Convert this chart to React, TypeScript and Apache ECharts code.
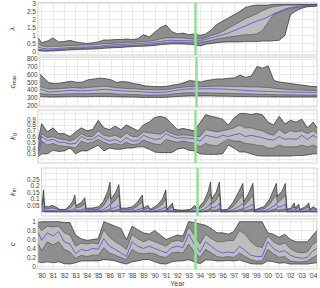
import React, { useEffect, useRef } from 'react';
import * as echarts from 'echarts';

// ---- time axes ----
const halfYears = [1979.7, 1980, 1980.5, 1981, 1981.5, 1982, 1982.5, 1983, 1983.5, 1984, 1984.5, 1985, 1985.5, 1986, 1986.5, 1987, 1987.5, 1988, 1988.5, 1989, 1989.5, 1990, 1990.5, 1991, 1991.5, 1992, 1992.5, 1993, 1993.5, 1994, 1994.5, 1995, 1995.5, 1996, 1996.5, 1997, 1997.5, 1998, 1998.5, 1999, 1999.5, 2000, 2000.5, 2001, 2001.5, 2002, 2002.5, 2003, 2003.5, 2004, 2004.35];
const yearTicks = [1980, 1981, 1982, 1983, 1984, 1985, 1986, 1987, 1988, 1989, 1990, 1991, 1992, 1993, 1994, 1995, 1996, 1997, 1998, 1999, 2000, 2001, 2002, 2003, 2004];
const markerYear = 1993.62;

// ---- panel 1 ----
const lam95 = [0.85, 0.55, 0.65, 0.85, 0.6, 0.62, 0.7, 0.6, 0.55, 0.5, 0.55, 0.6, 0.72, 0.72, 0.75, 0.75, 0.78, 0.75, 0.8, 1.05, 0.9, 1.2, 1.5, 1.65, 1.25, 1.1, 1.15, 1.05, 1.1, 1.0, 1.1, 1.35, 1.7, 1.9, 2.1, 2.3, 2.5, 2.75, 2.85, 2.9, 2.9, 2.9, 2.95, 2.95, 2.95, 2.95, 2.95, 2.95, 2.95, 2.95, 2.95];
const lam75 = [0.5, 0.35, 0.3, 0.32, 0.33, 0.35, 0.38, 0.38, 0.4, 0.42, 0.42, 0.45, 0.5, 0.5, 0.52, 0.55, 0.58, 0.58, 0.6, 0.62, 0.65, 0.7, 0.78, 0.85, 0.85, 0.85, 0.85, 0.8, 0.78, 0.78, 0.85, 1.0, 1.1, 1.25, 1.45, 1.65, 1.85, 2.05, 2.2, 2.35, 2.55, 2.7, 2.8, 2.85, 2.9, 2.9, 2.9, 2.9, 2.9, 2.92, 2.93];
const lam50 = [0.3, 0.2, 0.15, 0.17, 0.2, 0.22, 0.25, 0.26, 0.27, 0.28, 0.3, 0.32, 0.38, 0.4, 0.42, 0.44, 0.46, 0.47, 0.5, 0.52, 0.55, 0.58, 0.62, 0.68, 0.7, 0.68, 0.68, 0.67, 0.66, 0.68, 0.75, 0.85, 0.95, 1.05, 1.15, 1.3, 1.45, 1.6, 1.75, 1.9, 2.0, 2.15, 2.35, 2.5, 2.65, 2.75, 2.8, 2.85, 2.88, 2.9, 2.92];
const lam25 = [0.15, 0.1, 0.08, 0.1, 0.12, 0.15, 0.18, 0.2, 0.2, 0.22, 0.23, 0.25, 0.3, 0.32, 0.34, 0.35, 0.37, 0.38, 0.4, 0.42, 0.45, 0.48, 0.52, 0.56, 0.58, 0.58, 0.57, 0.56, 0.55, 0.58, 0.62, 0.7, 0.78, 0.85, 0.9, 0.95, 1.0, 1.05, 1.05, 1.1, 1.3, 1.8, 2.3, 2.45, 2.6, 2.7, 2.75, 2.8, 2.83, 2.85, 2.87];
const lam5 = [0.05, 0.03, 0.02, 0.04, 0.06, 0.08, 0.1, 0.12, 0.13, 0.14, 0.15, 0.17, 0.2, 0.22, 0.24, 0.25, 0.28, 0.3, 0.32, 0.33, 0.35, 0.38, 0.42, 0.45, 0.47, 0.47, 0.46, 0.45, 0.42, 0.35, 0.45, 0.5, 0.55, 0.58, 0.6, 0.6, 0.6, 0.62, 0.62, 0.62, 0.65, 0.65, 0.67, 0.7, 1.0, 2.3, 2.55, 2.7, 2.8, 2.82, 2.84];

// ---- panel 2 ----
const cmax95 = [600, 560, 490, 480, 485, 500, 510, 495, 500, 530, 540, 550, 545, 530, 495, 505, 500, 480, 470, 450, 445, 440, 440, 445, 460, 470, 490, 520, 510, 500, 520, 530, 540, 540, 550, 555, 590, 560, 580, 700, 680, 710, 520, 500, 490, 480, 470, 460, 450, 440, 440];
const cmax75 = [440, 425, 410, 410, 415, 420, 428, 425, 420, 428, 435, 440, 445, 435, 425, 420, 415, 412, 408, 402, 398, 398, 398, 402, 415, 425, 435, 440, 440, 440, 442, 445, 445, 445, 442, 440, 440, 438, 435, 435, 432, 430, 420, 410, 405, 400, 398, 395, 392, 390, 390];
const cmax50 = [405, 395, 370, 375, 380, 385, 392, 388, 385, 390, 395, 400, 405, 398, 390, 385, 380, 378, 375, 370, 365, 365, 365, 370, 385, 395, 405, 410, 410, 410, 412, 412, 410, 408, 405, 400, 395, 390, 385, 382, 380, 378, 375, 372, 370, 370, 368, 368, 366, 366, 366];
const cmax25 = [350, 345, 340, 340, 342, 345, 348, 348, 346, 348, 350, 352, 354, 350, 345, 342, 340, 338, 335, 332, 330, 330, 332, 335, 345, 352, 358, 360, 360, 360, 360, 358, 356, 354, 352, 350, 348, 346, 344, 342, 340, 338, 336, 335, 334, 333, 332, 332, 331, 331, 331];
const cmax5 = [310, 310, 305, 305, 306, 308, 310, 310, 308, 310, 312, 312, 312, 310, 308, 306, 305, 304, 302, 300, 300, 300, 300, 302, 308, 312, 315, 318, 318, 318, 318, 318, 316, 315, 314, 312, 312, 310, 310, 308, 308, 307, 306, 306, 305, 305, 305, 305, 305, 305, 305];

// ---- panel 3 ----
const kg95 = [0.55, 0.82, 0.68, 0.75, 0.65, 0.65, 0.6, 0.68, 0.75, 0.7, 0.72, 0.88, 0.75, 0.72, 0.78, 0.72, 0.8, 0.75, 0.7, 0.8, 0.85, 0.93, 0.95, 0.92, 0.82, 0.72, 0.74, 0.72, 0.7, 0.84, 0.98, 0.95, 0.93, 0.9, 0.8, 0.92, 1.0, 1.0, 0.98, 1.0, 0.98, 0.85, 0.8, 0.95, 0.82, 0.88, 0.85, 0.9, 0.75, 0.85, 0.75];
const kg75 = [0.4, 0.65, 0.58, 0.6, 0.56, 0.55, 0.52, 0.56, 0.65, 0.6, 0.6, 0.7, 0.62, 0.6, 0.62, 0.58, 0.66, 0.6, 0.6, 0.68, 0.66, 0.65, 0.64, 0.7, 0.65, 0.62, 0.63, 0.62, 0.6, 0.6, 0.72, 0.7, 0.68, 0.7, 0.72, 0.75, 0.8, 0.75, 0.75, 0.72, 0.7, 0.65, 0.62, 0.72, 0.65, 0.7, 0.68, 0.7, 0.65, 0.7, 0.65];
const kg50 = [0.35, 0.6, 0.53, 0.55, 0.5, 0.5, 0.47, 0.48, 0.6, 0.55, 0.55, 0.62, 0.56, 0.52, 0.55, 0.5, 0.58, 0.52, 0.53, 0.62, 0.58, 0.55, 0.56, 0.65, 0.6, 0.57, 0.58, 0.57, 0.56, 0.52, 0.62, 0.6, 0.58, 0.62, 0.6, 0.63, 0.65, 0.6, 0.62, 0.6, 0.58, 0.55, 0.54, 0.6, 0.55, 0.56, 0.55, 0.62, 0.55, 0.62, 0.58];
const kg25 = [0.3, 0.52, 0.45, 0.48, 0.44, 0.43, 0.42, 0.4, 0.52, 0.48, 0.5, 0.55, 0.5, 0.46, 0.48, 0.45, 0.5, 0.46, 0.47, 0.54, 0.5, 0.47, 0.46, 0.55, 0.52, 0.5, 0.52, 0.5, 0.48, 0.42, 0.48, 0.45, 0.44, 0.5, 0.55, 0.52, 0.52, 0.48, 0.47, 0.45, 0.44, 0.4, 0.4, 0.45, 0.42, 0.42, 0.42, 0.45, 0.42, 0.45, 0.42];
const kg5 = [0.25, 0.3, 0.3, 0.36, 0.34, 0.35, 0.4, 0.3, 0.35, 0.35, 0.4, 0.45, 0.35, 0.4, 0.38, 0.38, 0.4, 0.4, 0.42, 0.42, 0.38, 0.33, 0.32, 0.32, 0.32, 0.38, 0.4, 0.36, 0.35, 0.3, 0.29, 0.29, 0.29, 0.3, 0.45, 0.4, 0.33, 0.33, 0.3, 0.27, 0.26, 0.26, 0.26, 0.26, 0.26, 0.26, 0.27, 0.27, 0.28, 0.3, 0.3];

// ---- panel 4 (irregular sampling) ----
const t4 = [1979.7, 1979.85, 1979.95, 1980.3, 1980.6, 1980.9, 1981.3, 1981.8, 1982.2, 1982.5, 1982.65, 1982.75, 1983.2, 1983.55, 1983.65, 1984.2, 1984.8, 1985.2, 1985.6, 1985.8, 1985.9, 1986.3, 1986.6, 1986.75, 1987.3, 1987.8, 1988.2, 1988.7, 1988.8, 1989.2, 1989.4, 1990.0, 1990.5, 1990.8, 1990.9, 1991.4, 1991.5, 1992.0, 1992.5, 1993.0, 1993.4, 1993.6, 1994.2, 1994.6, 1994.8, 1994.9, 1995.3, 1995.6, 1995.75, 1996.3, 1996.8, 1997.3, 1997.7, 1997.8, 1998.2, 1998.6, 1998.75, 1999.2, 1999.6, 2000.1, 2000.5, 2000.7, 2000.8, 2001.2, 2001.5, 2001.65, 2002.0, 2002.3, 2002.4, 2002.7, 2002.8, 2003.3, 2003.6, 2003.7, 2004.0, 2004.35];
const km95 = [0.05, 0.17, 0.04, 0.04, 0.05, 0.04, 0.02, 0.02, 0.05, 0.09, 0.13, 0.05, 0.07, 0.11, 0.03, 0.03, 0.04, 0.08, 0.16, 0.23, 0.1, 0.15, 0.21, 0.03, 0.03, 0.04, 0.07, 0.13, 0.03, 0.05, 0.02, 0.05, 0.1, 0.17, 0.02, 0.07, 0.02, 0.015, 0.015, 0.02, 0.05, 0.02, 0.08, 0.16, 0.23, 0.1, 0.15, 0.23, 0.015, 0.02, 0.07, 0.15, 0.22, 0.08, 0.14, 0.22, 0.015, 0.03, 0.04, 0.1, 0.18, 0.22, 0.12, 0.16, 0.22, 0.02, 0.03, 0.07, 0.03, 0.06, 0.02, 0.04, 0.07, 0.02, 0.04, 0.02];
const km75 = [0.03, 0.1, 0.025, 0.025, 0.03, 0.025, 0.012, 0.012, 0.03, 0.055, 0.08, 0.03, 0.04, 0.065, 0.015, 0.015, 0.02, 0.045, 0.1, 0.14, 0.06, 0.09, 0.13, 0.015, 0.015, 0.02, 0.04, 0.08, 0.015, 0.03, 0.012, 0.03, 0.06, 0.1, 0.012, 0.04, 0.012, 0.01, 0.01, 0.012, 0.03, 0.012, 0.05, 0.1, 0.14, 0.06, 0.09, 0.14, 0.01, 0.012, 0.04, 0.09, 0.13, 0.05, 0.085, 0.13, 0.01, 0.018, 0.024, 0.06, 0.11, 0.13, 0.07, 0.1, 0.13, 0.012, 0.018, 0.04, 0.018, 0.035, 0.012, 0.024, 0.04, 0.012, 0.024, 0.012];
const km50 = [0.015, 0.04, 0.012, 0.01, 0.012, 0.01, 0.006, 0.006, 0.012, 0.02, 0.03, 0.012, 0.015, 0.025, 0.008, 0.008, 0.01, 0.018, 0.04, 0.06, 0.025, 0.035, 0.055, 0.006, 0.006, 0.008, 0.015, 0.03, 0.006, 0.01, 0.005, 0.012, 0.025, 0.04, 0.005, 0.015, 0.005, 0.004, 0.004, 0.005, 0.012, 0.005, 0.02, 0.045, 0.07, 0.03, 0.04, 0.065, 0.004, 0.005, 0.018, 0.04, 0.065, 0.025, 0.04, 0.06, 0.004, 0.008, 0.01, 0.025, 0.05, 0.065, 0.035, 0.045, 0.06, 0.005, 0.008, 0.018, 0.008, 0.015, 0.005, 0.01, 0.018, 0.005, 0.01, 0.005];
const km25 = [0.006, 0.015, 0.005, 0.004, 0.005, 0.004, 0.003, 0.003, 0.005, 0.008, 0.012, 0.005, 0.006, 0.01, 0.003, 0.003, 0.004, 0.007, 0.015, 0.025, 0.01, 0.014, 0.022, 0.003, 0.003, 0.003, 0.006, 0.012, 0.003, 0.004, 0.002, 0.005, 0.01, 0.015, 0.002, 0.006, 0.002, 0.002, 0.002, 0.002, 0.005, 0.002, 0.008, 0.018, 0.03, 0.012, 0.016, 0.026, 0.002, 0.002, 0.007, 0.016, 0.026, 0.01, 0.016, 0.024, 0.002, 0.003, 0.004, 0.01, 0.02, 0.026, 0.014, 0.018, 0.024, 0.002, 0.003, 0.007, 0.003, 0.006, 0.002, 0.004, 0.007, 0.002, 0.004, 0.002];
const km5 = [0.002, 0.004, 0.001, 0.001, 0.001, 0.001, 0.001, 0.001, 0.001, 0.002, 0.003, 0.001, 0.001, 0.002, 0.001, 0.001, 0.001, 0.001, 0.003, 0.005, 0.002, 0.003, 0.005, 0.001, 0.001, 0.001, 0.001, 0.002, 0.001, 0.001, 0.001, 0.001, 0.002, 0.003, 0.001, 0.001, 0.001, 0.001, 0.001, 0.001, 0.001, 0.001, 0.002, 0.004, 0.006, 0.003, 0.004, 0.006, 0.001, 0.001, 0.002, 0.004, 0.006, 0.002, 0.004, 0.005, 0.001, 0.001, 0.001, 0.002, 0.004, 0.006, 0.003, 0.004, 0.005, 0.001, 0.001, 0.002, 0.001, 0.001, 0.001, 0.001, 0.002, 0.001, 0.001, 0.001];

// ---- panel 5 ----
const c95 = [0.98, 1.0, 1.0, 1.0, 1.0, 0.98, 0.98, 0.7, 0.62, 0.58, 0.6, 0.62, 1.0, 0.95, 0.9, 0.85, 0.6, 0.9, 0.82, 0.75, 0.72, 0.8, 0.7, 0.6, 0.65, 0.7, 0.68, 1.0, 0.98, 0.95, 0.92, 0.85, 0.75, 0.75, 0.72, 0.78, 1.0, 1.0, 1.0, 1.0, 1.0, 0.75, 0.72, 0.65, 0.72, 0.6, 0.55, 0.55, 0.55, 0.7, 0.8];
const c75 = [0.9, 0.8, 0.9, 0.88, 0.9, 0.75, 0.7, 0.45, 0.52, 0.5, 0.52, 0.5, 0.82, 0.65, 0.55, 0.48, 0.38, 0.72, 0.62, 0.55, 0.6, 0.55, 0.5, 0.45, 0.55, 0.58, 0.55, 0.88, 0.7, 0.5, 0.72, 0.62, 0.55, 0.55, 0.58, 0.58, 0.8, 0.72, 0.55, 0.45, 0.42, 0.68, 0.55, 0.48, 0.52, 0.4, 0.32, 0.3, 0.32, 0.5, 0.55];
const c50 = [0.75, 0.58, 0.75, 0.68, 0.78, 0.55, 0.5, 0.28, 0.38, 0.35, 0.4, 0.38, 0.62, 0.45, 0.38, 0.3, 0.22, 0.55, 0.45, 0.4, 0.45, 0.4, 0.35, 0.3, 0.42, 0.45, 0.42, 0.72, 0.5, 0.32, 0.55, 0.45, 0.35, 0.3, 0.32, 0.3, 0.45, 0.35, 0.25, 0.22, 0.22, 0.55, 0.4, 0.32, 0.35, 0.25, 0.2, 0.18, 0.2, 0.35, 0.4];
const c25 = [0.5, 0.35, 0.55, 0.48, 0.55, 0.38, 0.32, 0.18, 0.25, 0.22, 0.25, 0.25, 0.42, 0.3, 0.25, 0.2, 0.15, 0.38, 0.3, 0.28, 0.3, 0.28, 0.22, 0.2, 0.3, 0.32, 0.3, 0.5, 0.32, 0.2, 0.38, 0.3, 0.22, 0.2, 0.22, 0.2, 0.3, 0.22, 0.15, 0.12, 0.12, 0.38, 0.28, 0.2, 0.22, 0.12, 0.1, 0.1, 0.12, 0.2, 0.25];
const c5 = [0.1, 0.08, 0.1, 0.08, 0.1, 0.06, 0.05, 0.08, 0.12, 0.12, 0.12, 0.12, 0.15, 0.14, 0.12, 0.08, 0.05, 0.1, 0.12, 0.15, 0.15, 0.1, 0.06, 0.05, 0.1, 0.12, 0.12, 0.15, 0.1, 0.06, 0.14, 0.14, 0.12, 0.12, 0.13, 0.12, 0.14, 0.1, 0.06, 0.05, 0.05, 0.12, 0.1, 0.07, 0.08, 0.05, 0.05, 0.05, 0.05, 0.07, 0.08];

// ---- tick labels ----
const ticks1 = [0, 0.5, 1, 1.5, 2, 2.5, 3];
const ticks2 = [200, 300, 400, 500, 600, 700, 800];
const ticks3 = [0.2, 0.3, 0.4, 0.5, 0.6, 0.7, 0.8, 0.9, 1];
const ticks4 = [0, 0.05, 0.1, 0.15, 0.2, 0.25, 0.3];
const ticks5 = [0, 0.2, 0.4, 0.6, 0.8, 1];

const DARK = '#8e8e8e';
const LIGHT = '#bdbdbd';
const EDGE = '#151515';
const INNER = '#3c3c3c';
const BLUE = '#4b4bf0';
const GREEN = '#92e292';
const GRIDC = '#e3e3e3';
const FONT = 'Liberation Sans, Arial, sans-serif';

const XMIN = 1979.67;
const XMAX = 2004.34;

const panels = [
  { t: halfYears, p5: lam5, p25: lam25, p50: lam50, p75: lam75, p95: lam95, top: 1, height: 54, min: -0.22, max: 3.05, ticks: ticks1, name: '{v|λ}' },
  { t: halfYears, p5: cmax5, p25: cmax25, p50: cmax50, p75: cmax75, p95: cmax95, top: 57, height: 50, min: 175, max: 825, ticks: ticks2, name: '{v|c}{s|max}' },
  { t: halfYears, p5: kg5, p25: kg25, p50: kg50, p75: kg75, p95: kg95, top: 110, height: 53, min: 0.14, max: 1.06, ticks: ticks3, name: '{v|k}{s|g}' },
  { t: t4, p5: km5, p25: km25, p50: km50, p75: km75, p95: km95, top: 168, height: 48, min: -0.031, max: 0.338, ticks: ticks4, name: '{v|k}{s|m}' },
  { t: halfYears, p5: c5, p25: c25, p50: c50, p75: c75, p95: c95, top: 219, height: 56, min: -0.06, max: 1.06, ticks: ticks5, name: '{v|c}' },
];

function bandSeries(i: number, t: number[], lo: number[], hi: number[], fill: string) {
  return {
    type: 'custom', xAxisIndex: i, yAxisIndex: i, silent: true, z: 1,
    data: t.map((x, k) => [x, lo[k], hi[k]]),
    encode: { x: 0, y: [1, 2] },
    renderItem: (params: any, api: any) => {
      if (params.dataIndex !== 0) return null;
      const pts: number[][] = [];
      for (let k = 0; k < t.length; k++) pts.push(api.coord([t[k], hi[k]]));
      for (let k = t.length - 1; k >= 0; k--) pts.push(api.coord([t[k], lo[k]]));
      return { type: 'polygon', shape: { points: pts }, style: { fill, stroke: null } };
    },
  };
}

function lineSeries(i: number, t: number[], v: number[], color: string, width: number, z: number) {
  return {
    type: 'line', xAxisIndex: i, yAxisIndex: i, silent: true, z, symbol: 'none',
    data: t.map((x, k) => [x, v[k]]),
    lineStyle: { color, width },
  };
}

function buildOption() {
  const grid: any[] = [];
  const xAxis: any[] = [];
  const yAxis: any[] = [];
  const series: any[] = [];
  panels.forEach((p, i) => {
    const last = i === panels.length - 1;
    grid.push({
      left: 19, width: 298, top: p.top, height: p.height,
      show: true, borderColor: '#c4c4c4', borderWidth: 0.8, backgroundColor: '#fff',
    });
    xAxis.push({
      type: 'value', gridIndex: i, min: XMIN, max: XMAX,
      axisLine: { show: false },
      axisTick: { show: false, customValues: yearTicks },
      axisLabel: {
        show: last, customValues: yearTicks, fontSize: 6.5, color: '#444', margin: 3, fontFamily: FONT,
        formatter: (v: number) => "'" + String(Math.round(v)).slice(2),
      },
      splitLine: { show: true, lineStyle: { color: GRIDC, width: 0.7 } },
      name: last ? 'Year' : '', nameLocation: 'middle', nameGap: 11,
      nameTextStyle: { fontSize: 7, color: '#444', fontFamily: FONT },
    });
    yAxis.push({
      type: 'value', gridIndex: i, min: p.min, max: p.max,
      axisLine: { show: false },
      axisTick: { show: false, customValues: p.ticks },
      axisLabel: { customValues: p.ticks, fontSize: 6.5, color: '#444', margin: 2, fontFamily: FONT, hideOverlap: false },
      splitLine: { show: true, lineStyle: { color: GRIDC, width: 0.7 } },
      name: p.name, nameLocation: 'middle', nameRotate: 90, nameGap: 11,
      nameTextStyle: {
        color: '#333', fontFamily: FONT,
        rich: {
          v: { fontSize: 7.5, fontStyle: 'italic', color: '#333', fontFamily: FONT },
          s: { fontSize: 5, color: '#333', padding: [3, 0, 0, 0], fontFamily: FONT },
        },
      },
    });
    series.push(bandSeries(i, p.t, p.p5, p.p95, DARK));
    series.push(bandSeries(i, p.t, p.p25, p.p75, LIGHT));
    series.push(lineSeries(i, p.t, p.p5, EDGE, 0.6, 2));
    series.push(lineSeries(i, p.t, p.p25, INNER, 0.5, 2));
    series.push(lineSeries(i, p.t, p.p75, INNER, 0.5, 2));
    series.push(lineSeries(i, p.t, p.p95, EDGE, 0.6, 2));
    const med: any = lineSeries(i, p.t, p.p50, BLUE, 0.8, 3);
    med.markLine = {
      silent: true, symbol: ['none', 'none'], label: { show: false },
      lineStyle: { color: GREEN, width: 2.5, type: 'solid' },
      data: [{ xAxis: markerYear }],
    };
    series.push(med);
  });
  return { animation: false, backgroundColor: '#fff', grid, xAxis, yAxis, series };
}

export default function App() {
  const ref = useRef<HTMLDivElement>(null);
  useEffect(() => {
    if (!ref.current) return;
    const chart = echarts.init(ref.current, null, { renderer: 'svg' });
    chart.setOption(buildOption() as any);
    return () => chart.dispose();
  }, []);
  return <div ref={ref} style={{ position: 'absolute', left: 0, top: 0, width: 320, height: 288 }} />;
}
